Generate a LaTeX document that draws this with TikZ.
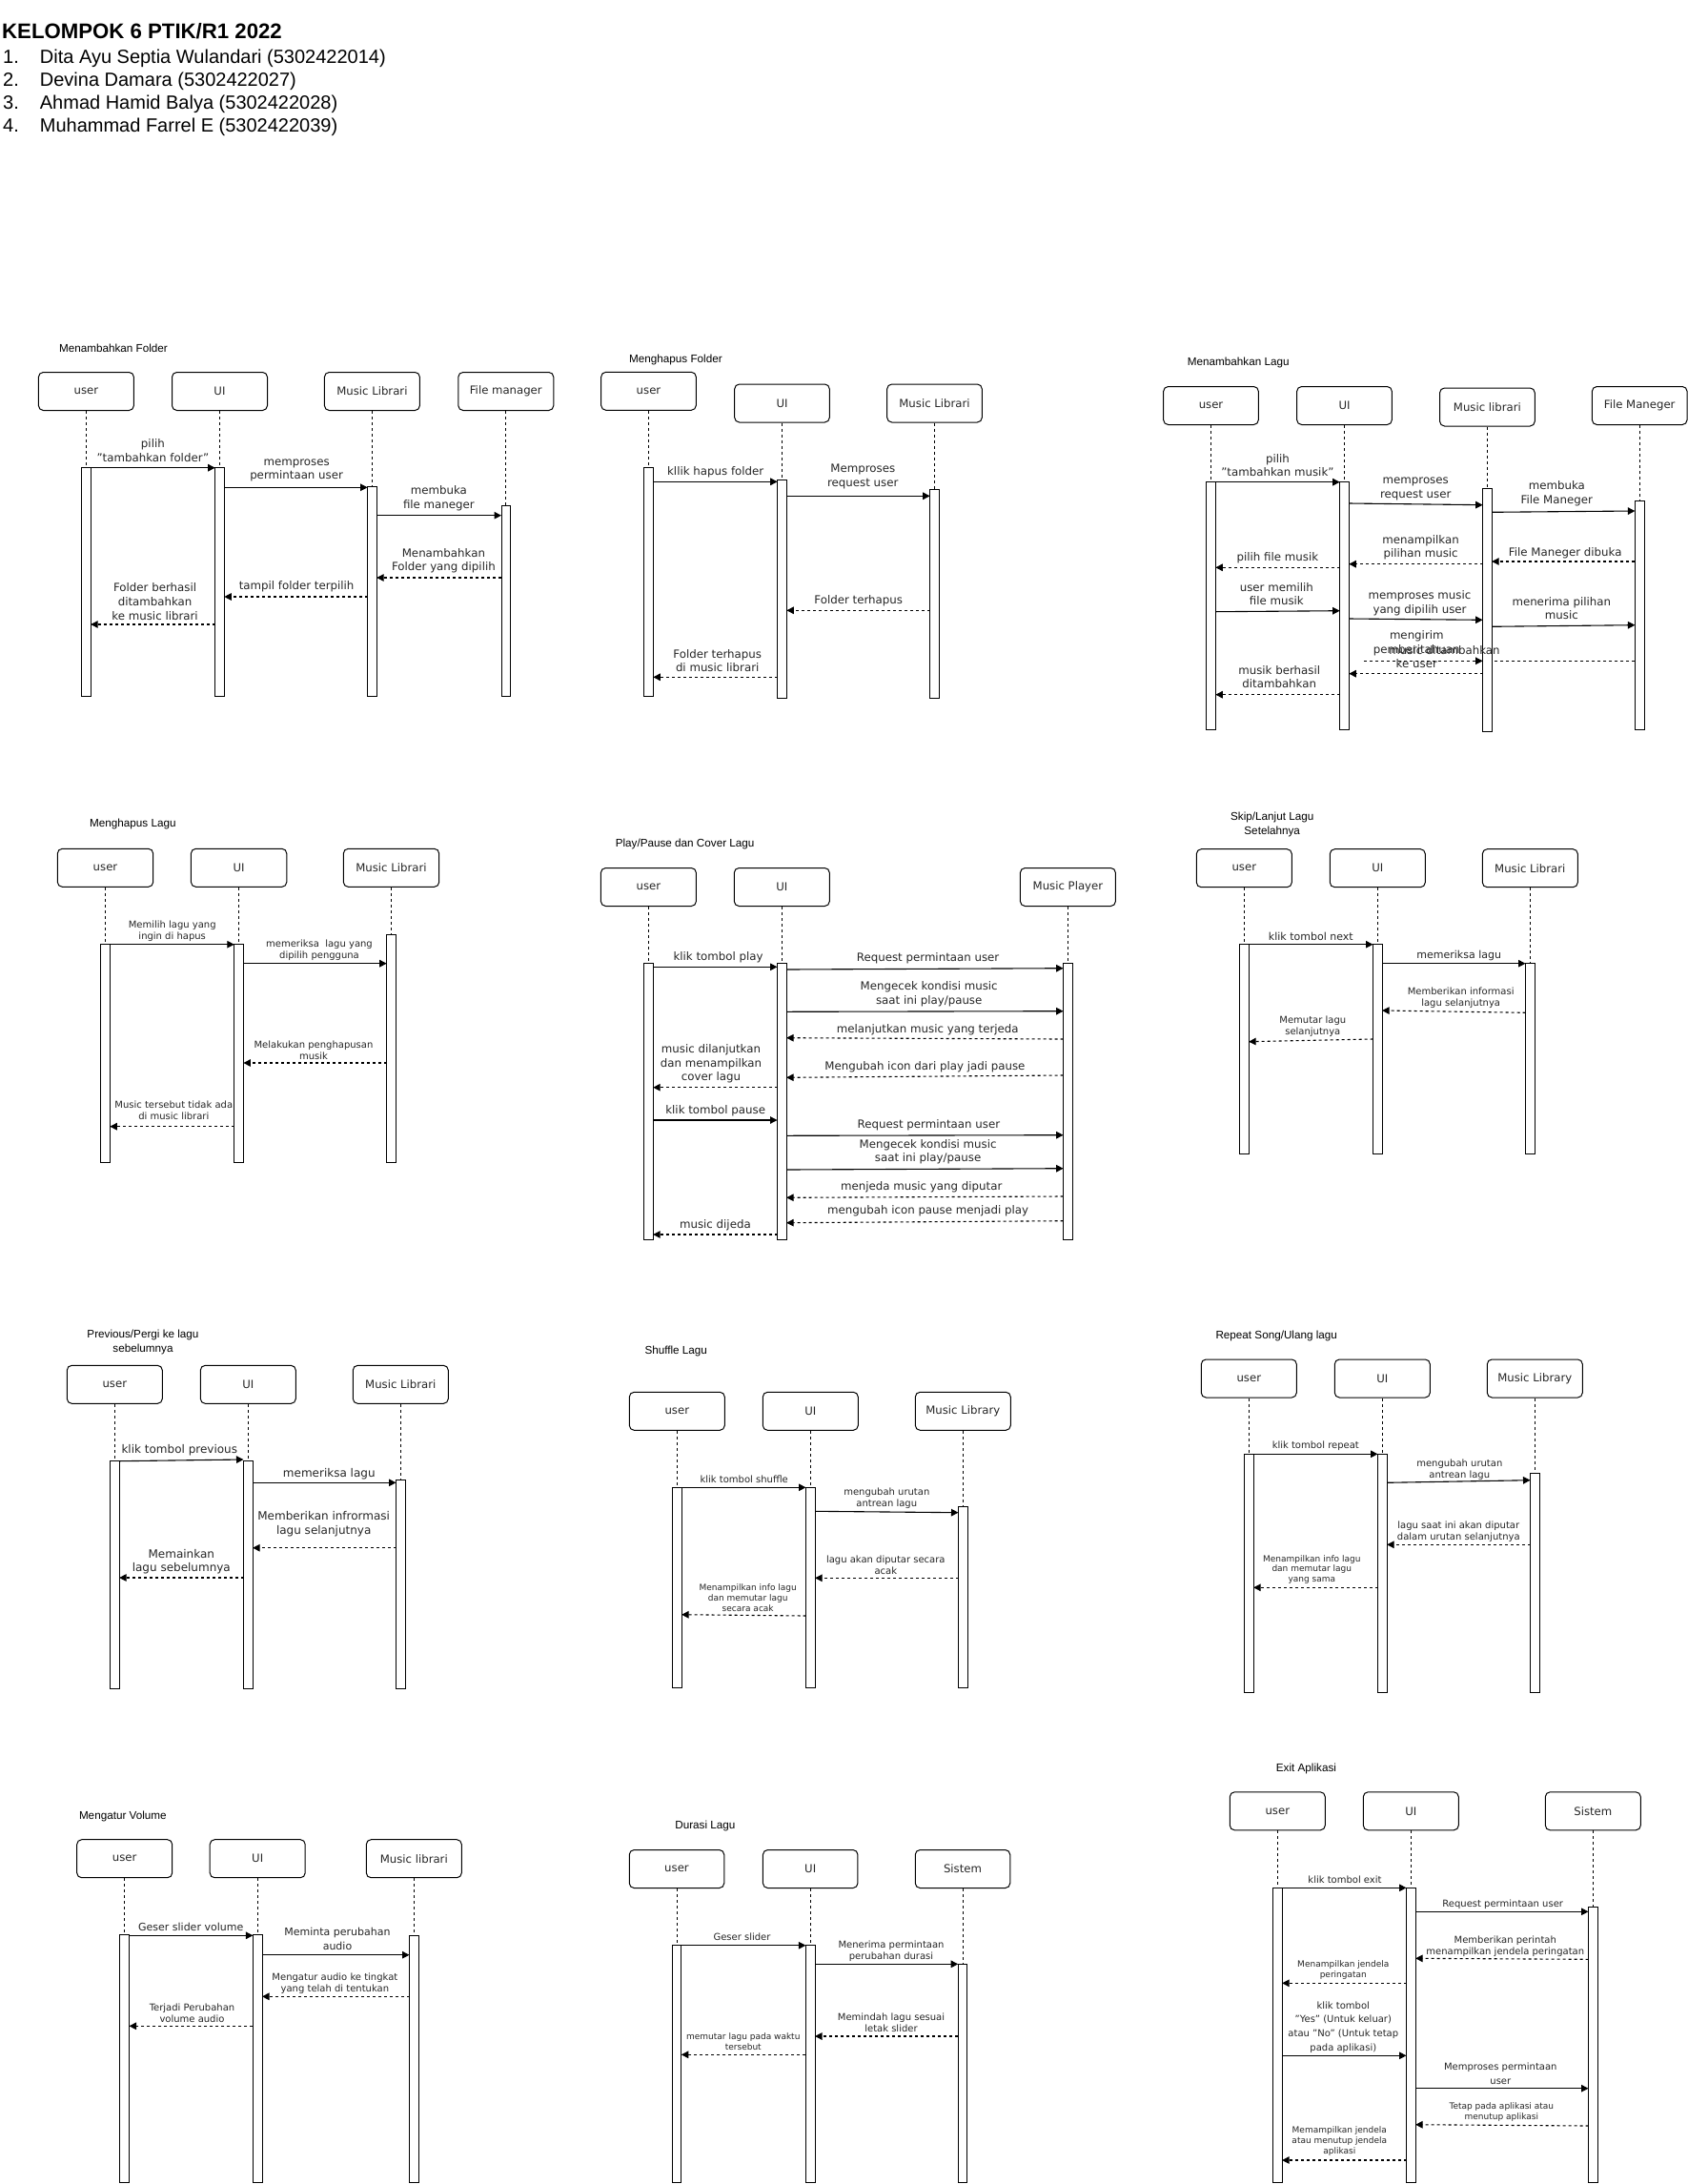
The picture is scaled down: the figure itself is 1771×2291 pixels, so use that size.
\documentclass[tikz,border=0pt]{standalone}
\usepackage{fontspec}
\setmainfont{DejaVu Sans}
\newfontfamily\arialf{Liberation Sans}
\usetikzlibrary{arrows.meta}
\newcommand{\lane}[7]{%
  \node[actor, minimum width=#7pt] (#1) at (#2,#3) {#4};
  \node[bar, minimum height=#6pt] (#1b) at (#2,#5) {};
  \draw[life] (#1.south) -- (#1b.north);}
\newcommand{\rmsg}[4]{\draw[call] (#1.east |- 0,#3) -- (#2.west |- 0,#4);}
\newcommand{\lret}[4]{\draw[ret] (#1.west |- 0,#3) -- (#2.east |- 0,#4);}
\begin{document}
\begin{tikzpicture}[x=1pt,y=-1pt,
  actor/.style={draw, rounded corners=5pt, line width=1pt, minimum height=40pt, inner sep=0pt, font=\fontsize{11.7}{13.5}\selectfont, text=black!85},
  bar/.style={draw, fill=white, line width=1pt, minimum width=9.6pt, anchor=north, inner sep=0pt, outer sep=0pt},
  life/.style={line width=0.9pt, dash pattern=on 3pt off 3pt},
  call/.style={line width=1.1pt, -{Triangle[length=7.5pt,width=7.5pt]}},
  ret/.style={call, dash pattern=on 3pt off 3pt},
  lA/.style={align=center, inner sep=0pt, text=black!85, font=\fontsize{11.8}{14.6}\selectfont},
  lF/.style={lA, font=\fontsize{11}{14.6}\selectfont},
  lB/.style={lA, font=\fontsize{10}{12}\selectfont},
  lC/.style={lA, font=\fontsize{9}{10.7}\selectfont},
  lD/.style={lA, font=\fontsize{12}{14.4}\selectfont},
  lE/.style={lA, font=\fontsize{10}{14.6}\selectfont},
  ttl/.style={anchor=west, inner sep=0pt, font=\arialf\fontsize{11.7}{14.7}\selectfont},
  ttlc/.style={ttl, anchor=center, align=center},
  hdr/.style={anchor=base west, inner sep=0pt, font=\arialf\fontsize{20}{24}\selectfont},
]
\useasboundingbox (0,0) rectangle (1771,2291);

% ---------------- header
\node[anchor=base west, inner sep=0pt, font=\arialf\bfseries\fontsize{22.2}{26}\selectfont] (hd) at (2,41) {KELOMPOK 6 PTIK/R1 2022};
\node[hdr] (hn1) at (3,66.5) {1.};
\node[hdr] (hm1) at (41.7,66.5) {Dita Ayu Septia Wulandari (5302422014)};
\node[hdr] (hn2) at (3,90.5) {2.};
\node[hdr] (hm2) at (41.7,90.5) {Devina Damara (5302422027)};
\node[hdr] (hn3) at (3,114.5) {3.};
\node[hdr] (hm3) at (41.7,114.5) {Ahmad Hamid Balya (5302422028)};
\node[hdr] (hn4) at (3,138.5) {4.};
\node[hdr] (hm4) at (41.7,138.5) {Muhammad Farrel E (5302422039)};

% ---------------- D1 Menambahkan Folder
\node[ttl] (d1t) at (61.9,365) {Menambahkan Folder};
\lane{d1a}{90.4}{410.5}{user}{490.7}{239.3}{100}
\lane{d1b}{230.5}{410.5}{UI}{490.7}{239.3}{100}
\lane{d1c}{390.4}{410.5}{Music Librari}{510.7}{219.3}{100}
\lane{d1d}{530.8}{410.5}{File manager}{530.7}{199.3}{100}
\rmsg{d1ab}{d1bb}{490.7}{490.7}
\rmsg{d1bb}{d1cb}{511.3}{511.3}
\rmsg{d1cb}{d1db}{540.7}{540.7}
\lret{d1db}{d1cb}{606}{606}
\lret{d1cb}{d1bb}{626}{626}
\lret{d1bb}{d1ab}{655}{655}
\node[lA] (d1l1) at (160.4,472.8) {pilih\\"tambahkan folder"};
\node[lA] (d1l2) at (311.1,493.3) {memproses\\permintaan user};
\node[lA] (d1l3) at (460.4,523) {membuka\\file maneger};
\node[lA] (d1l4) at (465.4,588.2) {Menambahkan\\Folder yang dipilih};
\node[lA] (d1l5) at (311.1,615.7) {tampil folder terpilih};
\node[lA] (d1l6) at (162.6,631) {Folder berhasil\\ditambahkan\\ke music librari};

% ---------------- D2 Menghapus Folder
\node[ttl] (d2t) at (660,377.3) {Menghapus Folder};
\lane{d2a}{680.5}{410.3}{user}{490.3}{239.7}{99.6}
\lane{d2b}{820.5}{423}{UI}{503.3}{229.4}{99.6}
\lane{d2c}{980.5}{423}{Music Librari}{513.3}{219.4}{99.6}
\rmsg{d2ab}{d2bb}{505.3}{505.3}
\rmsg{d2bb}{d2cb}{520.3}{520.3}
\lret{d2cb}{d2bb}{640.3}{640.3}
\lret{d2bb}{d2ab}{710.3}{710.3}
\node[lA] (d2l1) at (750.7,495.7) {kllik hapus folder};
\node[lA] (d2l2) at (905.3,500.2) {Memproses\\request user};
\node[lA] (d2l3) at (900.7,630.7) {Folder terhapus};
\node[lA] (d2l4) at (752.7,693) {Folder terhapus\\di music librari};

% ---------------- D3 Menambahkan Lagu
\node[ttl] (d3t) at (1245.7,380) {Menambahkan Lagu};
\lane{d3a}{1270.5}{425.5}{user}{505.7}{259.3}{99.7}
\lane{d3b}{1410.5}{425.5}{UI}{505.7}{259.3}{99.7}
\lane{d3c}{1560.4}{427}{Music librari}{512}{255}{99.7}
\lane{d3d}{1720.2}{425.5}{File Maneger}{525.7}{239.3}{99.7}
\rmsg{d3ab}{d3bb}{505.7}{505.7}
\rmsg{d3bb}{d3cb}{528}{529.7}
\rmsg{d3cb}{d3db}{537.3}{536}
\lret{d3db}{d3cb}{589}{589}
\lret{d3cb}{d3bb}{591.7}{591.7}
\lret{d3bb}{d3ab}{595.3}{595.3}
\rmsg{d3ab}{d3bb}{641.7}{640.7}
\rmsg{d3bb}{d3cb}{649}{650.3}
\rmsg{d3cb}{d3db}{657.3}{655.7}
\coordinate (d3k) at (1430.8,693.3);
\draw[ret] (d3k) -- (d3cb.west |- 0,693.3);
\draw[ret,-] (d3db.west |- 0,693.3) -- (d3cb.east |- 0,693.3);
\lret{d3cb}{d3bb}{706.7}{706.7}
\lret{d3bb}{d3ab}{728.7}{728.7}
\node[lA] (d3l1) at (1340.4,488) {pilih\\"tambahkan musik"};
\node[lA] (d3l2) at (1485.2,513.2) {memproses\\request user};
\node[lA] (d3l3) at (1633.3,518) {membuka\\File Maneger};
\node[lA] (d3l4) at (1642.2,580.7) {File Maneger dibuka};
\node[lA] (d3l5) at (1490.6,574.2) {menampilkan\\pilihan music};
\node[lA] (d3l6) at (1340.4,585.3) {pilih file musik};
\node[lA] (d3l7) at (1339.3,623) {user memilih\\file musik};
\node[lA] (d3l8) at (1489.5,633) {memproses music\\yang dipilih user};
\node[lA] (d3l9) at (1638.3,638) {menerima pilihan\\music};
\node[lA] (d3l10) at (1486.3,681.1) {mengirim\\pemberitahuan\\ke user};
\node[lA] (d3l11) at (1515.5,682.3) {music ditambahkan};
\node[lA] (d3l12) at (1342.2,710) {musik berhasil\\ditambahkan};

% ---------------- D4 Menghapus Lagu
\node[ttl] (d4t) at (94,864.7) {Menghapus Lagu};
\lane{d4a}{110.5}{910.3}{user}{990.7}{229}{100.4}
\lane{d4b}{250.6}{910.3}{UI}{990.7}{229}{100.4}
\lane{d4c}{410.5}{910.3}{Music Librari}{980.7}{239}{100.4}
\rmsg{d4ab}{d4bb}{990.7}{990.7}
\rmsg{d4bb}{d4cb}{1010.7}{1010.7}
\lret{d4cb}{d4bb}{1115}{1115}
\lret{d4bb}{d4ab}{1181.7}{1181.7}
\node[lB] (d4l1) at (180.7,977.2) {Memilih lagu yang\\ingin di hapus};
\node[lB] (d4l2) at (335,997.2) {memeriksa\ \ lagu yang\\dipilih pengguna};
\node[lB] (d4l3) at (329,1101.7) {Melakukan penghapusan\\musik};
\node[lB] (d4l4) at (182.3,1164.7) {Music tersebut tidak ada\\di music librari};

% ---------------- D5 Play/Pause
\node[ttl] (d5t) at (645.6,885) {Play/Pause dan Cover Lagu};
\lane{d5a}{680.4}{930.5}{user}{1010.7}{289.3}{100}
\lane{d5b}{820.3}{930.5}{UI}{1010.7}{289.3}{100}
\lane{d5c}{1120.4}{930.5}{Music Player}{1010.7}{289.3}{100}
\rmsg{d5ab}{d5bb}{1014.3}{1014.3}
\rmsg{d5bb}{d5cb}{1017}{1015.7}
\rmsg{d5bb}{d5cb}{1061.3}{1060.7}
\lret{d5cb}{d5bb}{1090}{1088.7}
\lret{d5cb}{d5bb}{1128}{1130.3}
\lret{d5bb}{d5ab}{1140.7}{1140.7}
\rmsg{d5ab}{d5bb}{1175}{1175}
\rmsg{d5bb}{d5cb}{1191.3}{1190.7}
\rmsg{d5bb}{d5cb}{1227}{1225.7}
\lret{d5cb}{d5bb}{1255}{1256.3}
\lret{d5cb}{d5bb}{1280.7}{1282.7}
\lret{d5bb}{d5ab}{1295}{1295}
\node[lA] (d5l1) at (753.6,1004.7) {klik tombol play};
\node[lA] (d5l2) at (973.6,1005.7) {Request permintaan user};
\node[lA] (d5l3) at (974.7,1043) {Mengecek kondisi music\\saat ini play/pause};
\node[lA] (d5l4) at (973.3,1080.7) {melanjutkan music yang terjeda};
\node[lA] (d5l5) at (970.4,1119.3) {Mengubah icon dari play jadi pause};
\node[lA] (d5l6) at (746,1116) {music dilanjutkan\\dan menampilkan\\cover lagu};
\node[lA] (d5l7) at (750.7,1165.3) {klik tombol pause};
\node[lA] (d5l8) at (974.4,1180.7) {Request permintaan user};
\node[lA] (d5l9) at (973.6,1208.2) {Mengecek kondisi music\\saat ini play/pause};
\node[lA] (d5l10) at (966.7,1245.7) {menjeda music yang diputar};
\node[lA] (d5l11) at (973.6,1270.3) {mengubah icon pause menjadi play};
\node[lA] (d5l12) at (750.4,1285.7) {music dijeda};

% ---------------- D6 Skip
\node[ttlc] (d6t) at (1334.7,865.3) {Skip/Lanjut Lagu\\Setelahnya};
\lane{d6a}{1305.3}{910.7}{user}{990.7}{219.3}{100}
\lane{d6b}{1445.3}{910.7}{UI}{990.7}{219.3}{100}
\lane{d6c}{1605.3}{910.7}{Music Librari}{1010.7}{199.3}{100}
\rmsg{d6ab}{d6bb}{990.7}{990.7}
\rmsg{d6bb}{d6cb}{1010.7}{1010.7}
\lret{d6cb}{d6bb}{1062.3}{1060}
\lret{d6bb}{d6ab}{1090}{1092.7}
\node[lF] (d6l1) at (1375.3,982.3) {klik tombol next};
\node[lF] (d6l2) at (1530.7,1002) {memeriksa lagu};
\node[lB] (d6l3) at (1532.7,1046.5) {Memberikan informasi\\lagu selanjutnya};
\node[lB] (d6l4) at (1377.3,1076.5) {Memutar lagu\\selanjutnya};

% ---------------- D7 Previous
\node[ttlc] (d7t) at (150,1407.7) {Previous/Pergi ke lagu\\sebelumnya};
\lane{d7a}{120.3}{1452.3}{user}{1532.7}{239}{100}
\lane{d7b}{260.3}{1452.3}{UI}{1532.7}{239}{100}
\lane{d7c}{420.3}{1452.3}{Music Librari}{1552.7}{219}{100}
\rmsg{d7ab}{d7bb}{1532.7}{1531}
\rmsg{d7bb}{d7cb}{1555.3}{1555.3}
\lret{d7cb}{d7bb}{1623.7}{1623.7}
\lret{d7bb}{d7ab}{1655}{1655}
\node[lD] (d7l1) at (188.3,1520.7) {klik tombol previous};
\node[lD] (d7l2) at (345.3,1545.7) {memeriksa lagu};
\node[lD] (d7l3) at (339.7,1598.8) {Memberikan infrormasi\\lagu selanjutnya};
\node[lD] (d7l4) at (190.3,1638) {Memainkan\\lagu sebelumnya};

% ---------------- D8 Shuffle
\node[ttl] (d8t) at (676.3,1417) {Shuffle Lagu};
\lane{d8a}{710.3}{1480.3}{user}{1560.3}{210}{100}
\lane{d8b}{850.3}{1480.3}{UI}{1560.3}{210}{100}
\lane{d8c}{1010.3}{1480.3}{Music Library}{1580.3}{190}{100}
\rmsg{d8ab}{d8bb}{1560.3}{1560.3}
\rmsg{d8bb}{d8cb}{1585.3}{1586.7}
\lret{d8cb}{d8bb}{1655.3}{1655.3}
\lret{d8bb}{d8ab}{1695}{1693.7}
\node[lB] (d8l1) at (780.7,1551.3) {klik tombol shuffle};
\node[lB] (d8l2) at (930.3,1571.7) {mengubah urutan\\antrean lagu};
\node[lB] (d8l3) at (929.3,1641.3) {lagu akan diputar secara\\acak};
\node[lC] (d8l4) at (784.7,1676.3) {Menampilkan info lagu\\dan memutar lagu\\secara acak};

% ---------------- D9 Repeat
\node[ttl] (d9t) at (1275.3,1401.3) {Repeat Song/Ulang lagu};
\lane{d9a}{1310.3}{1446}{user}{1525.3}{250.4}{100}
\lane{d9b}{1450.3}{1446}{UI}{1525.3}{250.4}{100}
\lane{d9c}{1610.3}{1446}{Music Library}{1545.7}{230}{100}
\rmsg{d9ab}{d9bb}{1525.3}{1525.3}
\rmsg{d9bb}{d9cb}{1555.3}{1552.7}
\lret{d9cb}{d9bb}{1620.3}{1620.3}
\lret{d9bb}{d9ab}{1665.3}{1665.3}
\node[lB] (d9l1) at (1380.3,1516.3) {klik tombol repeat};
\node[lB] (d9l2) at (1531.3,1541.7) {mengubah urutan\\antrean lagu};
\node[lB] (d9l3) at (1530.3,1606.7) {lagu saat ini akan diputar\\dalam urutan selanjutnya};
\node[lC] (d9l4) at (1376.3,1646.3) {Menampilkan info lagu\\dan memutar lagu\\yang sama};

% ---------------- D10 Volume
\node[ttl] (d10t) at (82.8,1905.3) {Mengatur Volume};
\lane{d10a}{130.7}{1949.7}{user}{2029.3}{260.4}{100}
\lane{d10b}{270.2}{1949.7}{UI}{2029.3}{260.4}{100}
\lane{d10c}{434.3}{1949.7}{Music librari}{2030.3}{259.4}{100}
\rmsg{d10ab}{d10bb}{2030.3}{2030.3}
\rmsg{d10bb}{d10cb}{2050.7}{2050.7}
\lret{d10cb}{d10bb}{2094.3}{2094.3}
\lret{d10bb}{d10ab}{2125.3}{2125.3}
\node[lF] (d10l1) at (200.2,2021) {Geser slider volume};
\node[lF] (d10l2) at (354,2033.8) {Meminta perubahan\\audio};
\node[lB] (d10l3) at (351.4,2080.3) {Mengatur audio ke tingkat\\yang telah di tentukan};
\node[lB] (d10l4) at (201.5,2111.7) {Terjadi Perubahan\\volume audio};

% ---------------- D11 Durasi
\node[ttl] (d11t) at (708.1,1915.3) {Durasi Lagu};
\lane{d11a}{710}{1960.5}{user}{2040.7}{249}{99.5}
\lane{d11b}{850.2}{1960.5}{UI}{2040.7}{249}{99.5}
\lane{d11c}{1010}{1960.5}{Sistem}{2060.3}{229.4}{99.5}
\rmsg{d11ab}{d11bb}{2040.7}{2040.7}
\rmsg{d11bb}{d11cb}{2060.3}{2060.3}
\lret{d11cb}{d11bb}{2136}{2136}
\lret{d11bb}{d11ab}{2155.3}{2155.3}
\node[lB] (d11l1) at (778.5,2032) {Geser slider};
\node[lB] (d11l2) at (935,2047) {Menerima permintaan\\perubahan durasi};
\node[lB] (d11l3) at (935,2122) {Memindah lagu sesuai\\letak slider};
\node[lC] (d11l4) at (779.8,2141.8) {memutar lagu pada waktu\\tersebut};

% ---------------- D12 Exit
\node[ttl] (d12t) at (1338.7,1855) {Exit Aplikasi};
\lane{d12a}{1340.3}{1899.8}{user}{1980}{309.7}{100}
\lane{d12b}{1480.3}{1899.8}{UI}{1980}{309.7}{100}
\lane{d12c}{1671.3}{1899.8}{Sistem}{2000}{289.7}{100}
\rmsg{d12ab}{d12bb}{1980.3}{1980.3}
\rmsg{d12bb}{d12cb}{2005.3}{2005.3}
\lret{d12cb}{d12bb}{2055.3}{2054.3}
\lret{d12bb}{d12ab}{2080.3}{2080.3}
\rmsg{d12ab}{d12bb}{2156.3}{2156.3}
\rmsg{d12bb}{d12cb}{2190.7}{2190.7}
\lret{d12cb}{d12bb}{2230}{2228.7}
\lret{d12bb}{d12ab}{2266}{2266}
\node[lB] (d12l1) at (1411,1971.3) {klik tombol exit};
\node[lB] (d12l2) at (1576.7,1997.3) {Request permintaan user};
\node[lB] (d12l3) at (1579.3,2041.3) {Memberikan perintah\\menampilkan jendela peringatan};
\node[lC] (d12l4) at (1409.3,2066.3) {Menampilkan jendela\\peringatan};
\node[lE] (d12l5) at (1409.3,2126.4) {klik tombol\\"Yes" (Untuk keluar)\\atau "No" (Untuk tetap\\pada aplikasi)};
\node[lE] (d12l6) at (1574.3,2175) {Memproses permintaan\\user};
\node[lC] (d12l7) at (1575.3,2215.8) {Tetap pada aplikasi atau\\menutup aplikasi};
\node[lC] (d12l8) at (1405.3,2245.9) {Memampilkan jendela\\atau menutup jendela\\aplikasi};
\end{tikzpicture}
\end{document}
